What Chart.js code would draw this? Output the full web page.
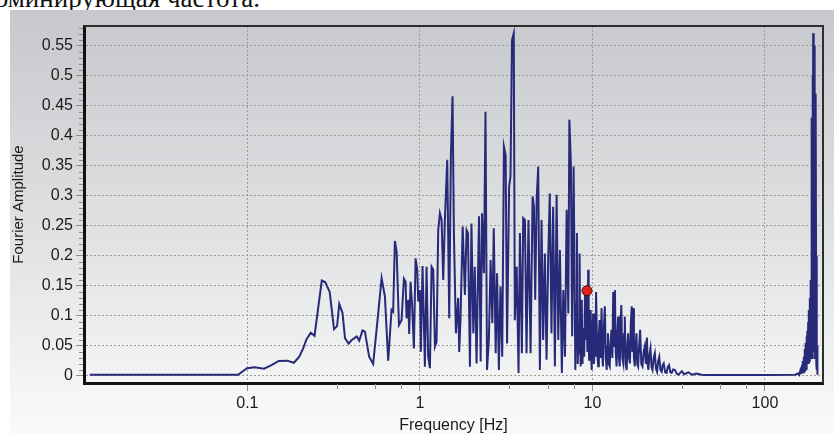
<!DOCTYPE html>
<html>
<head>
<meta charset="utf-8">
<script src="https://cdn.jsdelivr.net/npm/chart.js@4.4.0/dist/chart.umd.min.js"></script>
<style>
  html, body { margin:0; padding:0; background:#fff; }
  body { width:834px; height:434px; position:relative; overflow:hidden; }
  #caption { position:absolute; left:-19px; top:-15px; font-family:"Liberation Serif", serif; font-size:27px; line-height:27px; color:#111; white-space:nowrap; }
  #panel { position:absolute; left:10px; top:10px; right:0; bottom:0; background:linear-gradient(#c7c8cb, #dfe0e2 50%, #fafafa); }
  #wrap { position:absolute; left:0; top:0; width:834px; height:434px; }
</style>
</head>
<body>
<div id="caption">доминирующая частота.</div>
<div id="panel"></div>
<div id="wrap"><canvas id="spectrum"></canvas></div>
<script>
// Fourier amplitude spectrum
const freq = [
  0.0122, 0.0244, 0.0366, 0.0488, 0.061, 0.0732, 0.0883, 0.0996, 0.11, 0.125,
  0.138, 0.152, 0.17, 0.186, 0.2, 0.21, 0.22, 0.233, 0.245, 0.27,
  0.283, 0.30, 0.318, 0.331, 0.341, 0.356, 0.368, 0.386, 0.40, 0.43,
  0.445, 0.465, 0.48, 0.508, 0.536, 0.573, 0.60, 0.627, 0.655, 0.685,
  0.70, 0.716, 0.733, 0.756, 0.783, 0.808, 0.826, 0.837, 0.856, 0.867,
  0.883, 0.902, 0.923, 0.944, 0.965, 0.978, 1.0, 1.013, 1.036, 1.069,
  1.093, 1.117, 1.143, 1.169, 1.195, 1.222, 1.249, 1.277, 1.306, 1.336,
  1.365, 1.396, 1.44, 1.479, 1.512, 1.546, 1.574, 1.617, 1.667, 1.69,
  1.72, 1.77, 1.823, 1.865, 1.9, 1.95, 1.99, 2.04, 2.08, 2.13,
  2.2, 2.25, 2.29, 2.35, 2.4, 2.45, 2.51, 2.57, 2.63, 2.68,
  2.75, 2.8, 2.87, 2.93, 3.0, 3.07, 3.14, 3.2, 3.29, 3.35,
  3.42, 3.5, 3.55, 3.64, 3.73, 3.8, 3.9, 3.97, 4.06, 4.15,
  4.26, 4.38, 4.5, 4.58, 4.66, 4.75, 4.85, 4.96, 5.07, 5.18,
  5.3, 5.42, 5.54, 5.66, 5.79, 5.92, 6.06, 6.2, 6.34, 6.48,
  6.65, 6.78, 6.93, 7.09, 7.25, 7.35, 7.5, 7.63, 7.78, 7.96,
  8.05, 8.13, 8.22, 8.31, 8.37, 8.43, 8.49, 8.55, 8.61, 8.67,
  8.76, 8.86, 8.96, 9.06, 9.15, 9.25, 9.35, 9.45, 9.51, 9.57,
  9.67, 9.77, 9.84, 9.9, 10.0, 10.1, 10.2, 10.3, 10.4, 10.5,
  10.65, 10.8, 10.9, 11.0, 11.15, 11.3, 11.4, 11.5, 11.65, 11.8,
  11.95, 12.1, 12.2, 12.3, 12.45, 12.6, 12.75, 12.9, 13.05, 13.2,
  13.35, 13.5, 13.65, 13.8, 13.95, 14.1, 14.25, 14.4, 14.55, 14.7,
  14.9, 15.1, 15.25, 15.4, 15.6, 15.8, 15.95, 16.1, 16.3, 16.5,
  16.7, 16.9, 17.05, 17.2, 17.4, 17.6, 17.8, 18.0, 18.2, 18.4,
  18.65, 18.9, 19.2, 19.5, 19.8, 20.1, 20.4, 20.7, 20.9, 21.1,
  21.4, 21.7, 22.0, 22.3, 22.65, 23.0, 23.35, 23.7, 24.05, 24.4,
  24.8, 25.2, 25.55, 25.9, 26.4, 26.9, 27.35, 27.8, 28.3, 28.8,
  29.4, 30.1, 30.8, 31.5, 33, 34, 36, 38, 40, 43,
  46, 60, 100, 150, 156, 158, 160, 161, 162, 163,
  164, 165, 166, 167, 168, 169, 170, 171, 172, 173,
  174, 175, 176, 177, 178, 179, 180, 181, 182, 183,
  184, 185, 185.8, 186.5, 187.2, 188, 188.8, 189.5, 190.3, 191,
  191.7, 192.4, 193.1, 193.8, 194.5, 195.2, 196, 196.8, 197.6, 198.4,
  199.2, 200, 200.8, 201.5
];
const amp = [
  0.002, 0.002, 0.002, 0.002, 0.002, 0.002, 0.002, 0.013, 0.0145, 0.012,
  0.018, 0.025, 0.0255, 0.022, 0.032, 0.045, 0.061, 0.072, 0.067, 0.159,
  0.156, 0.14, 0.078, 0.083, 0.12, 0.105, 0.063, 0.054, 0.059, 0.066,
  0.059, 0.076, 0.074, 0.032, 0.02, 0.104, 0.163, 0.132, 0.0255, 0.11,
  0.107, 0.225, 0.207, 0.085, 0.093, 0.162, 0.157, 0.096, 0.127, 0.07,
  0.157, 0.116, 0.046, 0.196, 0.177, 0.124, 0.143, 0.0405, 0.183, 0.0155,
  0.182, 0.032, 0.013, 0.182, 0.177, 0.049, 0.057, 0.243, 0.271, 0.26,
  0.16, 0.26, 0.36, 0.096, 0.365, 0.466, 0.24, 0.071, 0.13, 0.04,
  0.096, 0.249, 0.135, 0.243, 0.238, 0.0155, 0.254, 0.071, 0.182, 0.021,
  0.266, 0.024, 0.271, 0.171, 0.44, 0.01, 0.06, 0.193, 0.088, 0.246,
  0.038, 0.171, 0.01, 0.149, 0.032, 0.382, 0.368, 0.054, 0.316, 0.332,
  0.56, 0.571, 0.093, 0.182, 0.005, 0.238, 0.038, 0.263, 0.26, 0.038,
  0.26, 0.038, 0.299, 0.282, 0.127, 0.293, 0.349, 0.01, 0.26, 0.06,
  0.204, 0.027, 0.193, 0.304, 0.071, 0.282, 0.016, 0.302, 0.06, 0.21,
  0.005, 0.143, 0.032, 0.277, 0.104, 0.427, 0.354, 0.066, 0.349, 0.01,
  0.12, 0.238, 0.02, 0.09, 0.038, 0.204, 0.05, 0.016, 0.09, 0.127,
  0.02, 0.08, 0.032, 0.138, 0.06, 0.143, 0.04, 0.177, 0.06, 0.027,
  0.09, 0.11, 0.03, 0.01, 0.07, 0.104, 0.02, 0.06, 0.032, 0.14,
  0.04, 0.016, 0.07, 0.093, 0.03, 0.113, 0.04, 0.016, 0.08, 0.116,
  0.03, 0.01, 0.05, 0.071, 0.02, 0.016, 0.06, 0.077, 0.03, 0.14,
  0.05, 0.143, 0.04, 0.016, 0.07, 0.099, 0.03, 0.016, 0.08, 0.118,
  0.03, 0.021, 0.07, 0.099, 0.02, 0.01, 0.05, 0.071, 0.03, 0.021,
  0.09, 0.116, 0.04, 0.113, 0.03, 0.016, 0.05, 0.071, 0.02, 0.016,
  0.05, 0.077, 0.02, 0.016, 0.04, 0.049, 0.02, 0.064, 0.02, 0.01,
  0.035, 0.046, 0.015, 0.01, 0.03, 0.038, 0.012, 0.007, 0.025, 0.032,
  0.01, 0.007, 0.018, 0.021, 0.006, 0.005, 0.015, 0.018, 0.006, 0.005,
  0.011, 0.01, 0.004, 0.002, 0.008, 0.003, 0.006, 0.002, 0.004, 0.002,
  0.0015, 0.0015, 0.0015, 0.002, 0.004, 0.002, 0.008, 0.003, 0.012, 0.004,
  0.018, 0.005, 0.025, 0.006, 0.032, 0.008, 0.045, 0.01, 0.055, 0.012,
  0.066, 0.015, 0.075, 0.02, 0.09, 0.02, 0.11, 0.025, 0.13, 0.03,
  0.16, 0.035, 0.3, 0.04, 0.43, 0.03, 0.5, 0.05, 0.571, 0.06,
  0.57, 0.05, 0.55, 0.04, 0.5, 0.03, 0.47, 0.03, 0.466, 0.02,
  0.2, 0.01, 0.05, 0.002
];

// marked point (red dot)
const peakFreq = [9.3];
const peakAmp = [0.142];

const xTicks = [0.1, 1, 10, 100];
const xMinor = [0.33, 0.55, 0.78, 3.3, 5.5, 7.8, 33, 55, 78];
const yTicks = [0, 0.05, 0.1, 0.15, 0.2, 0.25, 0.3, 0.35, 0.4, 0.45, 0.5, 0.55];

const FONT = '"Liberation Sans", Arial, sans-serif';

// frame on top/right and the small minor ticks
const framePlugin = {
  id: 'frame',
  afterDraw(chart){
    const {ctx, chartArea:a, scales} = chart;
    ctx.save();
    ctx.strokeStyle = '#8c8c8c';
    ctx.lineWidth = 1;
    ctx.beginPath();
    xMinor.forEach(v => {
      const x = Math.round(scales.x.getPixelForValue(v)) + 0.5;
      ctx.moveTo(x, a.bottom + 1); ctx.lineTo(x, a.bottom + 6);
    });
    for (let i = 1; i <= 58; i++) {
      if (i % 5 === 0) continue;
      const y = Math.round(scales.y.getPixelForValue(i / 100)) + 0.5;
      ctx.moveTo(a.left - 5, y); ctx.lineTo(a.left - 1, y);
    }
    ctx.stroke();
    ctx.strokeStyle = '#2e2e2e';
    ctx.lineWidth = 2;
    ctx.beginPath();
    ctx.moveTo(a.left, a.top); ctx.lineTo(a.right, a.top); ctx.lineTo(a.right, a.bottom);
    ctx.stroke();
    ctx.restore();
  }
};

new Chart(document.getElementById('spectrum'), {
  type: 'line',
  data: {
    datasets: [
      {
        data: peakFreq.map((f, i) => ({x: f, y: peakAmp[i]})),
        showLine: false,
        pointRadius: 5,
        pointBackgroundColor: '#e3201b',
        pointBorderColor: '#3a1010',
        pointBorderWidth: 1
      },
      {
        data: freq.map((f, i) => ({x: f, y: amp[i]})),
        borderColor: '#272a78',
        borderWidth: 2,
        pointRadius: 0,
        tension: 0,
        fill: false
      }
    ]
  },
  options: {
    responsive: true,
    maintainAspectRatio: false,
    animation: false,
    layout: { padding: { left: 0, right: 11, top: 26, bottom: 0 } },
    plugins: { legend: { display: false }, tooltip: { enabled: false } },
    scales: {
      x: {
        type: 'logarithmic',
        min: 0.0113,
        max: 217,
        afterBuildTicks: s => { s.ticks = xTicks.map(v => ({value: v, major: true})); },
        afterFit: s => { s.height = 51; },
        ticks: { autoSkip: false, maxRotation: 0, color: '#1a1a1a', padding: 3,
                 font: { size: 16, family: FONT }, callback: v => String(v) },
        grid: { color: '#9a9a9a', tickColor: '#8c8c8c', tickLength: 8 },
        border: { color: '#111', width: 3, dash: [2, 2] },
        title: { display: true, text: 'Frequency [Hz]', color: '#1a1a1a',
                 font: { size: 16, family: FONT }, padding: { top: 0, bottom: -1 } }
      },
      y: {
        min: -0.0117,
        max: 0.583,
        afterBuildTicks: s => { s.ticks = yTicks.map(v => ({value: v})); },
        afterFit: s => { s.width = 84; },
        ticks: { color: '#1a1a1a', padding: 3, font: { size: 16, family: FONT },
                 callback: v => String(+v.toFixed(2)) },
        grid: { color: '#9a9a9a', tickColor: '#8c8c8c', tickLength: 8 },
        border: { color: '#111', width: 3, dash: [2, 2] },
        title: { display: true, text: 'Fourier Amplitude', color: '#1a1a1a',
                 font: { size: 15, family: FONT }, padding: { top: 10, bottom: 0 } }
      }
    }
  },
  plugins: [framePlugin]
});
</script>
</body>
</html>
